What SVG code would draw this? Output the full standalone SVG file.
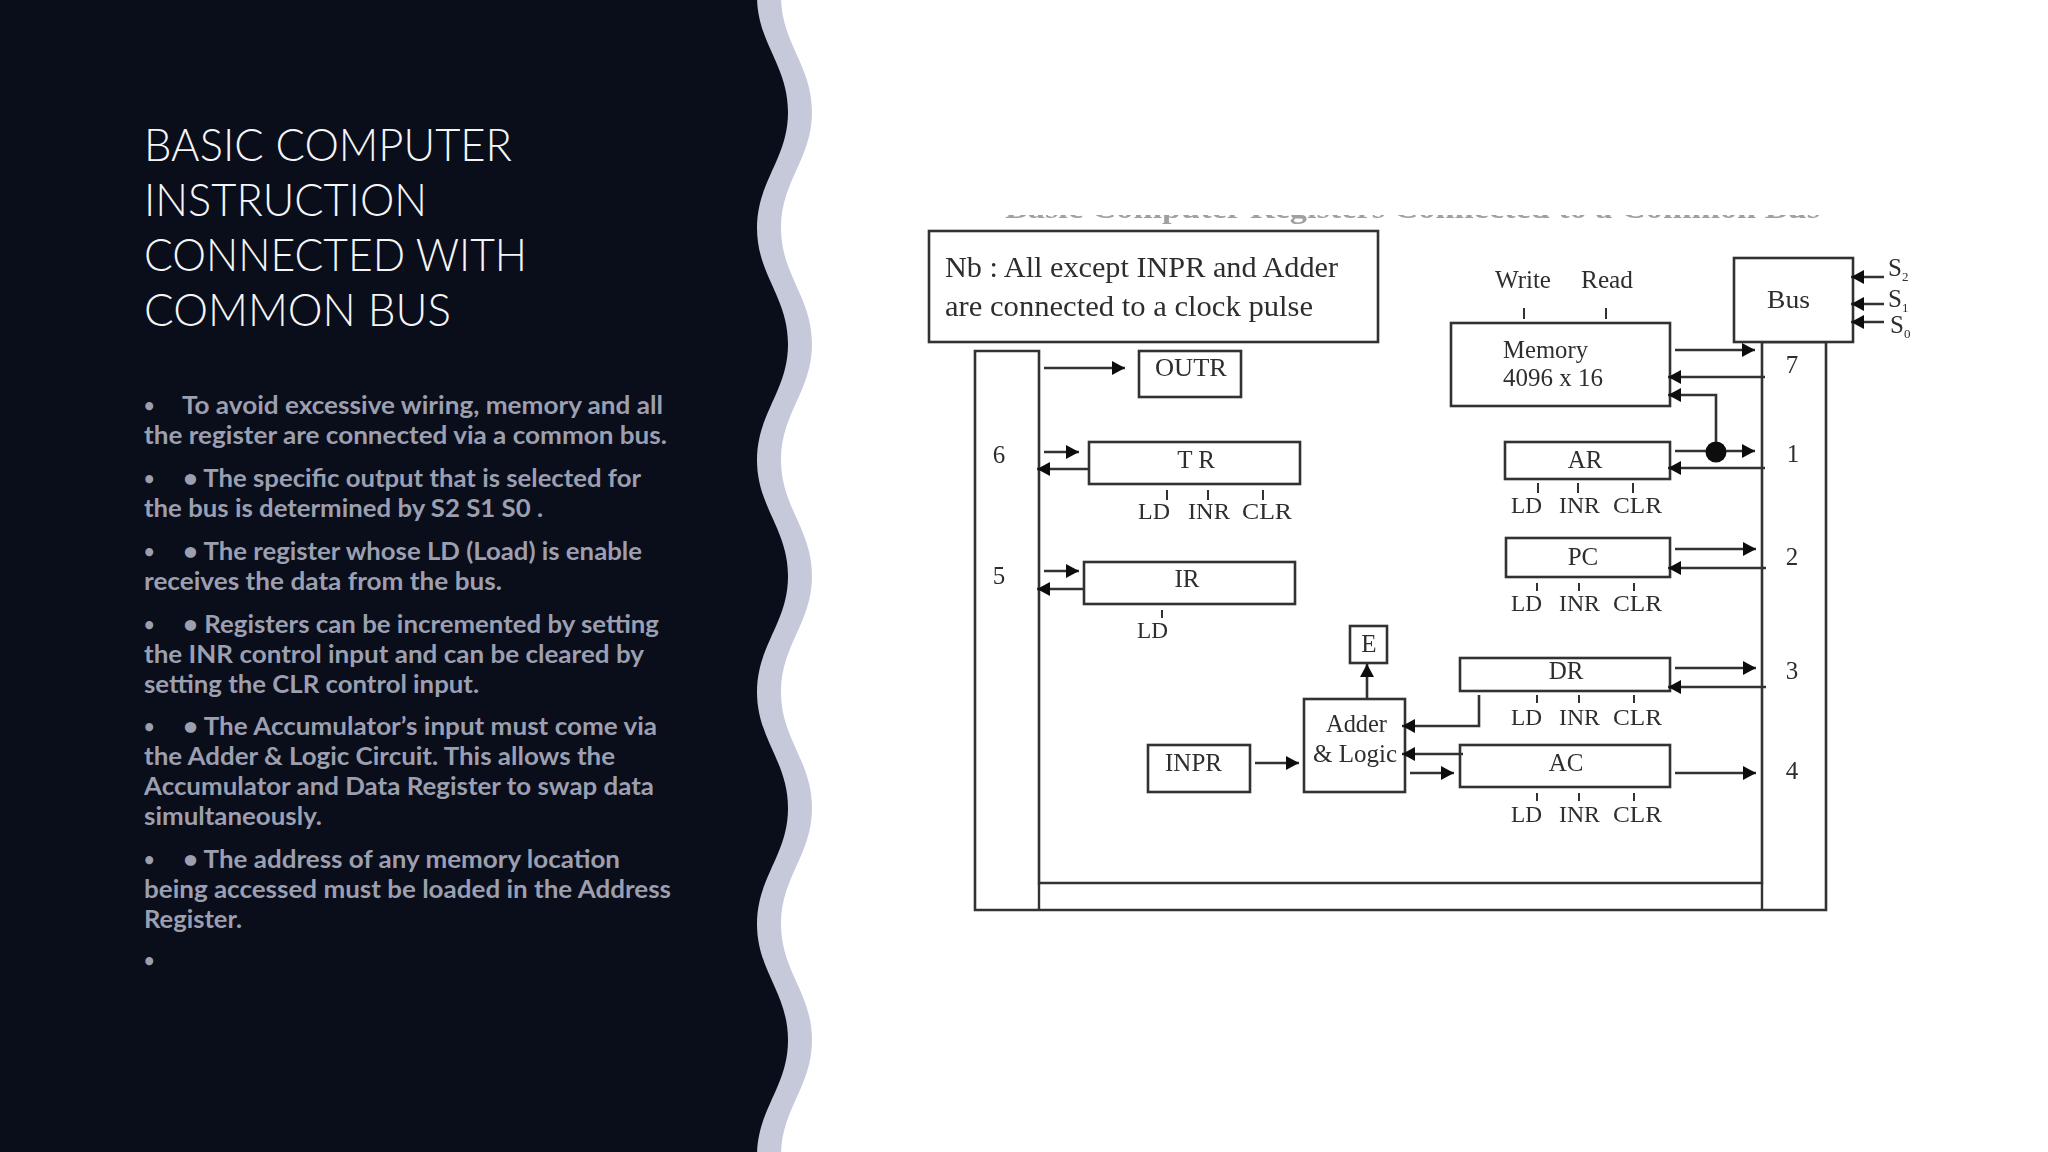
<svg xmlns="http://www.w3.org/2000/svg" width="2048" height="1152" viewBox="0 0 2048 1152">
<style>
.title{font-family:"Lato","Liberation Sans",sans-serif;font-weight:300;font-size:45px;fill:#f4f5f7}
.body{font-family:"Lato","Liberation Sans",sans-serif;font-weight:700;font-size:25px;fill:#9b9fb0}
.dot{font-size:18px}
.d{font-family:"Liberation Serif",serif;font-size:25px;fill:#2e2e2e}
.l{font-size:23px}
.m{text-anchor:middle}
.b{fill:#fff;stroke:#333;stroke-width:2.6}
.c{fill:none;stroke:#333;stroke-width:2.6;marker-end:url(#a)}
.t{fill:none;stroke:#333;stroke-width:2}
.w{fill:none;stroke:#333;stroke-width:2.4}
</style>
<defs>
<marker id="a" markerUnits="userSpaceOnUse" markerWidth="15" markerHeight="15" refX="13" refY="7" orient="auto"><path d="M0 0L13 7L0 14Z" fill="#111"/></marker>
<path id="wave" d="M0-4L781-4C781 43 812 65 812 112S781 181 781 228S812 297 812 344S781 413 781 460S812 529 812 576S781 645 781 692S812 761 812 808S781 877 781 924S812 993 812 1040S781 1109 781 1156L0 1156Z"/>
<clipPath id="cut"><rect x="990" y="215" width="860" height="12"/></clipPath>
<filter id="soft" x="-2%" y="-2%" width="104%" height="104%"><feGaussianBlur stdDeviation="0.5"/></filter>
</defs>
<rect width="2048" height="1152" fill="#fff"/>
<g id="background">
<use href="#wave" fill="#c6c9d9"/>
<use href="#wave" x="-24" fill="#0a0d1a"/>
</g>
<g id="title">
<text class="title" x="144" y="161" textLength="368" lengthAdjust="spacingAndGlyphs">BASIC COMPUTER</text>
<text class="title" x="144" y="216" textLength="283" lengthAdjust="spacingAndGlyphs">INSTRUCTION</text>
<text class="title" x="144" y="271" textLength="383" lengthAdjust="spacingAndGlyphs">CONNECTED WITH</text>
<text class="title" x="144" y="326" textLength="307" lengthAdjust="spacingAndGlyphs">COMMON BUS</text>
</g>
<g id="body-text">
<text class="body dot" x="144" y="412">•</text>
<text class="body" x="182" y="414" textLength="481" lengthAdjust="spacingAndGlyphs">To avoid excessive wiring, memory and all</text>
<text class="body" x="144" y="444" textLength="523" lengthAdjust="spacingAndGlyphs">the register are connected via a common bus.</text>
<text class="body dot" x="144" y="485">•</text>
<text class="body" x="183" y="487" textLength="458" lengthAdjust="spacingAndGlyphs">• The specific output that is selected for</text>
<text class="body" x="144" y="517" textLength="399" lengthAdjust="spacingAndGlyphs">the bus is determined by S2 S1 S0 .</text>
<text class="body dot" x="144" y="558">•</text>
<text class="body" x="183" y="560" textLength="459" lengthAdjust="spacingAndGlyphs">• The register whose LD (Load) is enable</text>
<text class="body" x="144" y="590" textLength="358" lengthAdjust="spacingAndGlyphs">receives the data from the bus.</text>
<text class="body dot" x="144" y="631">•</text>
<text class="body" x="183" y="633" textLength="476" lengthAdjust="spacingAndGlyphs">• Registers can be incremented by setting</text>
<text class="body" x="144" y="663" textLength="500" lengthAdjust="spacingAndGlyphs">the INR control input and can be cleared by</text>
<text class="body" x="144" y="693" textLength="335" lengthAdjust="spacingAndGlyphs">setting the CLR control input.</text>
<text class="body dot" x="144" y="733">•</text>
<text class="body" x="183" y="735" textLength="474" lengthAdjust="spacingAndGlyphs">• The Accumulator’s input must come via</text>
<text class="body" x="144" y="765" textLength="471" lengthAdjust="spacingAndGlyphs">the Adder &amp; Logic Circuit. This allows the</text>
<text class="body" x="144" y="795" textLength="510" lengthAdjust="spacingAndGlyphs">Accumulator and Data Register to swap data</text>
<text class="body" x="144" y="825" textLength="178" lengthAdjust="spacingAndGlyphs">simultaneously.</text>
<text class="body dot" x="144" y="866">•</text>
<text class="body" x="183" y="868" textLength="437" lengthAdjust="spacingAndGlyphs">• The address of any memory location</text>
<text class="body" x="144" y="898" textLength="527" lengthAdjust="spacingAndGlyphs">being accessed must be loaded in the Address</text>
<text class="body" x="144" y="928" textLength="98" lengthAdjust="spacingAndGlyphs">Register.</text>
<text class="body dot" x="144" y="967">•</text>
</g>
<g id="diagram" filter="url(#soft)">
<g id="cropped-heading" clip-path="url(#cut)">
<text x="1005" y="218" font-family="Liberation Serif, serif" font-size="30" font-weight="700" fill="#a0a0a0" textLength="815" lengthAdjust="spacingAndGlyphs">Basic Computer Registers Connected to a Common Bus</text>
</g>
<g id="bus">
<path class="b" d="M975 351H1039V883H1762V342H1826V910H975Z"/>
<path class="w" d="M1039 883V910M1762 883V910"/>
<text class="d m" x="999" y="463">6</text>
<text class="d m" x="999" y="584">5</text>
<text class="d m" x="1792" y="373">7</text>
<text class="d m" x="1793" y="462">1</text>
<text class="d m" x="1792" y="565">2</text>
<text class="d m" x="1792" y="679">3</text>
<text class="d m" x="1792" y="779">4</text>
</g>
<g id="note"><rect class="b" x="929" y="231" width="449" height="111"/>
<text class="d" style="font-size:29px" x="945" y="277" textLength="393" lengthAdjust="spacingAndGlyphs">Nb : All except INPR and Adder</text>
<text class="d" style="font-size:29px" x="945" y="316" textLength="368" lengthAdjust="spacingAndGlyphs">are connected to a clock pulse</text></g>
<g id="outr"><rect class="b" x="1139" y="351" width="102" height="46"/><text class="d" x="1155" y="376" textLength="72" lengthAdjust="spacingAndGlyphs">OUTR</text></g>
<g id="tr"><rect class="b" x="1089" y="442" width="211" height="42"/><text class="d m" x="1196" y="468">T R</text>
<text class="d l" x="1138" y="519" textLength="32" lengthAdjust="spacingAndGlyphs">LD</text><text class="d l" x="1188" y="519" textLength="42" lengthAdjust="spacingAndGlyphs">INR</text><text class="d l" x="1242" y="519" textLength="50" lengthAdjust="spacingAndGlyphs">CLR</text></g>
<g id="ir"><rect class="b" x="1084" y="562" width="211" height="42"/><text class="d m" x="1187" y="587">IR</text>
<text class="d l" x="1137" y="638" textLength="31" lengthAdjust="spacingAndGlyphs">LD</text></g>
<g id="memory"><rect class="b" x="1451" y="323" width="219" height="83"/>
<text class="d" x="1503" y="358" textLength="85" lengthAdjust="spacingAndGlyphs">Memory</text>
<text class="d" x="1503" y="386" textLength="100" lengthAdjust="spacingAndGlyphs">4096 x 16</text>
<text class="d" x="1495" y="288" textLength="56" lengthAdjust="spacingAndGlyphs">Write</text>
<text class="d" x="1581" y="288" textLength="52" lengthAdjust="spacingAndGlyphs">Read</text></g>
<g id="bus-select"><rect class="b" x="1734" y="258" width="119" height="84"/><text class="d" x="1767" y="308" textLength="43" lengthAdjust="spacingAndGlyphs">Bus</text>
<text class="d" x="1888" y="276">S<tspan font-size="13" dy="5">2</tspan></text>
<text class="d" x="1888" y="307">S<tspan font-size="13" dy="5">1</tspan></text>
<text class="d" x="1890" y="333">S<tspan font-size="13" dy="5">0</tspan></text></g>
<g id="ar"><rect class="b" x="1505" y="442" width="165" height="37"/><text class="d m" x="1585" y="468">AR</text>
<text class="d l" x="1511" y="513" textLength="31" lengthAdjust="spacingAndGlyphs">LD</text><text class="d l" x="1559" y="513" textLength="41" lengthAdjust="spacingAndGlyphs">INR</text><text class="d l" x="1613" y="513" textLength="49" lengthAdjust="spacingAndGlyphs">CLR</text></g>
<g id="pc"><rect class="b" x="1506" y="538" width="164" height="39"/><text class="d m" x="1583" y="565">PC</text>
<text class="d l" x="1511" y="611" textLength="31" lengthAdjust="spacingAndGlyphs">LD</text><text class="d l" x="1559" y="611" textLength="41" lengthAdjust="spacingAndGlyphs">INR</text><text class="d l" x="1613" y="611" textLength="49" lengthAdjust="spacingAndGlyphs">CLR</text></g>
<g id="dr"><rect class="b" x="1460" y="658" width="210" height="33"/><text class="d m" x="1566" y="679">DR</text>
<text class="d l" x="1511" y="725" textLength="31" lengthAdjust="spacingAndGlyphs">LD</text><text class="d l" x="1559" y="725" textLength="41" lengthAdjust="spacingAndGlyphs">INR</text><text class="d l" x="1613" y="725" textLength="49" lengthAdjust="spacingAndGlyphs">CLR</text></g>
<g id="ac"><rect class="b" x="1460" y="745" width="210" height="42"/><text class="d m" x="1566" y="771">AC</text>
<text class="d l" x="1511" y="822" textLength="31" lengthAdjust="spacingAndGlyphs">LD</text><text class="d l" x="1559" y="822" textLength="41" lengthAdjust="spacingAndGlyphs">INR</text><text class="d l" x="1613" y="822" textLength="49" lengthAdjust="spacingAndGlyphs">CLR</text></g>
<g id="e"><rect class="b" x="1350" y="626" width="37" height="37"/><text class="d m" x="1369" y="652">E</text></g>
<g id="adder"><rect class="b" x="1304" y="699" width="101" height="93"/>
<text class="d" x="1326" y="732" textLength="61" lengthAdjust="spacingAndGlyphs">Adder</text>
<text class="d" x="1313" y="762" textLength="84" lengthAdjust="spacingAndGlyphs">&amp; Logic</text></g>
<g id="inpr"><rect class="b" x="1148" y="745" width="102" height="47"/><text class="d" x="1165" y="771" textLength="57" lengthAdjust="spacingAndGlyphs">INPR</text></g>
<g id="connectors">
<path class="c" d="M1044 368H1125"/>
<path class="c" d="M1044 452H1079"/>
<path class="c" d="M1088 469H1037"/>
<path class="c" d="M1044 571H1079"/>
<path class="c" d="M1084 589H1037"/>
<path class="c" d="M1675 350H1755"/>
<path class="c" d="M1765 377H1668"/>
<path class="c" d="M1716 452V395H1668"/>
<path class="c" d="M1675 451H1755"/>
<path class="c" d="M1765 468H1668"/>
<path class="c" d="M1675 549H1756"/>
<path class="c" d="M1766 568H1668"/>
<path class="c" d="M1675 668H1756"/>
<path class="c" d="M1766 687H1668"/>
<path class="c" d="M1675 773H1756"/>
<path class="c" d="M1479 695V726H1402"/>
<path class="c" d="M1463 754H1402"/>
<path class="c" d="M1410 773H1454"/>
<path class="c" d="M1255 763H1299"/>
<path class="c" d="M1367 699V664"/>
<path class="c" d="M1884 277H1851"/>
<path class="c" d="M1884 304H1851"/>
<path class="c" d="M1884 322H1851"/>
<circle cx="1716" cy="452" r="10.5" fill="#111"/>
<path class="t" d="M1524 308V319M1606 308V319M1167 490V500M1208 490V500M1263 490V500M1538 483V493M1578 483V493M1633 483V493M1537 583V591M1579 583V591M1634 583V591M1537 695V703M1579 695V703M1634 695V703M1537 793V801M1579 793V801M1634 793V801M1162 610V618"/>
</g>
</g>
</svg>
